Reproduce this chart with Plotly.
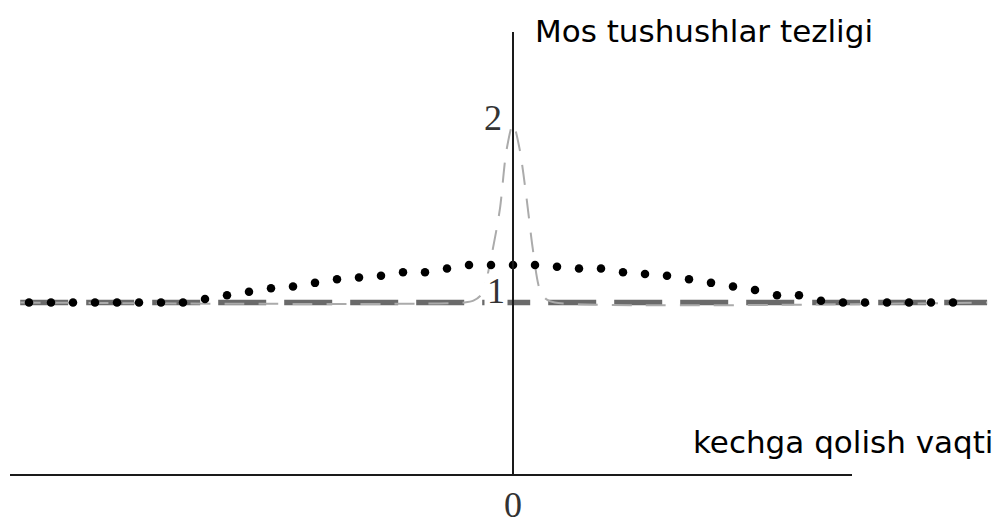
import plotly.graph_objects as go

# Delay axis in units of the sampling step; rate normalised to the accidental level.
baseline_x = [-22.4, 21.55]
baseline_y = [1.0, 1.0]

# Narrow coincidence peak (gray dashed)
peak_x = [-22.4, -2.2, -1.8, -1.4, -1.0, -0.6, -0.3, 0.0, 0.3, 0.6, 0.9, 1.2, 1.5, 1.9, 21.55]
peak_y = [1.0, 1.0, 1.01, 1.05, 1.25, 1.52, 1.85, 2.0, 1.86, 1.6, 1.3, 1.08, 1.02, 1.0, 1.0]

# Broad bunching bump (black dots)
dot_x = [-22, -21, -20, -19, -18, -17, -16, -15, -14, -13, -12, -11, -10, -9, -8, -7,
         -6, -5, -4, -3, -2, -1, 0, 1, 2, 3, 4, 5, 6, 7, 8, 9, 10, 11, 12, 13, 14,
         15, 16, 17, 18, 19, 20]
dot_y = [1.00, 1.00, 1.00, 1.00, 1.00, 1.00, 1.00, 1.00,
         1.02, 1.04, 1.06, 1.08, 1.09, 1.11, 1.13, 1.14, 1.15, 1.17, 1.17, 1.19,
         1.21, 1.21, 1.21, 1.21, 1.20, 1.19, 1.19, 1.17, 1.16, 1.15, 1.13, 1.11,
         1.09, 1.07, 1.04, 1.04, 1.01,
         1.00, 1.00, 1.00, 1.00, 1.00, 1.00]

y_tick_vals = [2, 1]
y_tick_text = ["2", "1"]
x_tick_text = "0"
y_title = "Mos tushushlar tezligi"
x_title = "kechga qolish vaqti"

W, H = 1004, 526


def px(p):
    return p / W


def py(p):
    return 1 - p / H


fig = go.Figure()

fig.add_trace(go.Scatter(
    x=baseline_x, y=baseline_y, mode="lines",
    line=dict(color="#6a6a6a", width=5.5, dash="48px,18px"),
    hoverinfo="skip", showlegend=False,
))
fig.add_trace(go.Scatter(
    x=peak_x, y=peak_y, mode="lines",
    line=dict(color="#ababab", width=2, dash="20px,14px", shape="spline", smoothing=0.8),
    hoverinfo="skip", showlegend=False,
))
fig.add_trace(go.Scatter(
    x=dot_x, y=dot_y, mode="markers",
    marker=dict(color="black", size=8.5, symbol="circle", line=dict(width=0)),
    hoverinfo="skip", showlegend=False,
))

# Axis lines
axis_line = dict(color="#1a1a1a", width=2)
fig.add_shape(type="line", xref="paper", yref="paper",
              x0=px(10), x1=px(852), y0=py(475), y1=py(475), line=axis_line, layer="above")
fig.add_shape(type="line", xref="x", yref="paper",
              x0=0, x1=0, y0=py(475), y1=py(32), line=axis_line, layer="above")

serif = dict(family="Liberation Serif", size=36, color="#333333")
sans = dict(family="DejaVu Sans", size=31, color="#000000")

# Tick labels on the rate axis
fig.add_annotation(x=-0.9, y=y_tick_vals[0], xref="x", yref="y", text=y_tick_text[0],
                   showarrow=False, font=serif, yshift=6, yanchor="middle")
fig.add_annotation(x=-0.77, y=y_tick_vals[1], xref="x", yref="y", text=y_tick_text[1],
                   showarrow=False, font=serif, bgcolor="white", width=22, height=34,
                   borderpad=0, yshift=12, yanchor="middle")
# Zero on the delay axis
fig.add_annotation(x=0, y=py(505), xref="x", yref="paper", text=x_tick_text,
                   showarrow=False, font=serif, yanchor="middle")

# Axis titles
fig.add_annotation(x=px(533), y=py(31), xref="paper", yref="paper", text=y_title,
                   showarrow=False, font=sans, xanchor="left", yanchor="middle")
fig.add_annotation(x=px(691), y=py(442), xref="paper", yref="paper", text=x_title,
                   showarrow=False, font=sans, xanchor="left", yanchor="middle")

fig.update_layout(
    width=W, height=H, autosize=False,
    margin=dict(l=0, r=0, t=0, b=0),
    paper_bgcolor="white", plot_bgcolor="white",
    xaxis=dict(range=[-513 / 22, 491 / 22], visible=False, fixedrange=True),
    yaxis=dict(range=[-0.2521, 2.6947], visible=False, fixedrange=True),
    showlegend=False,
)

fig.write_html("out.html")
